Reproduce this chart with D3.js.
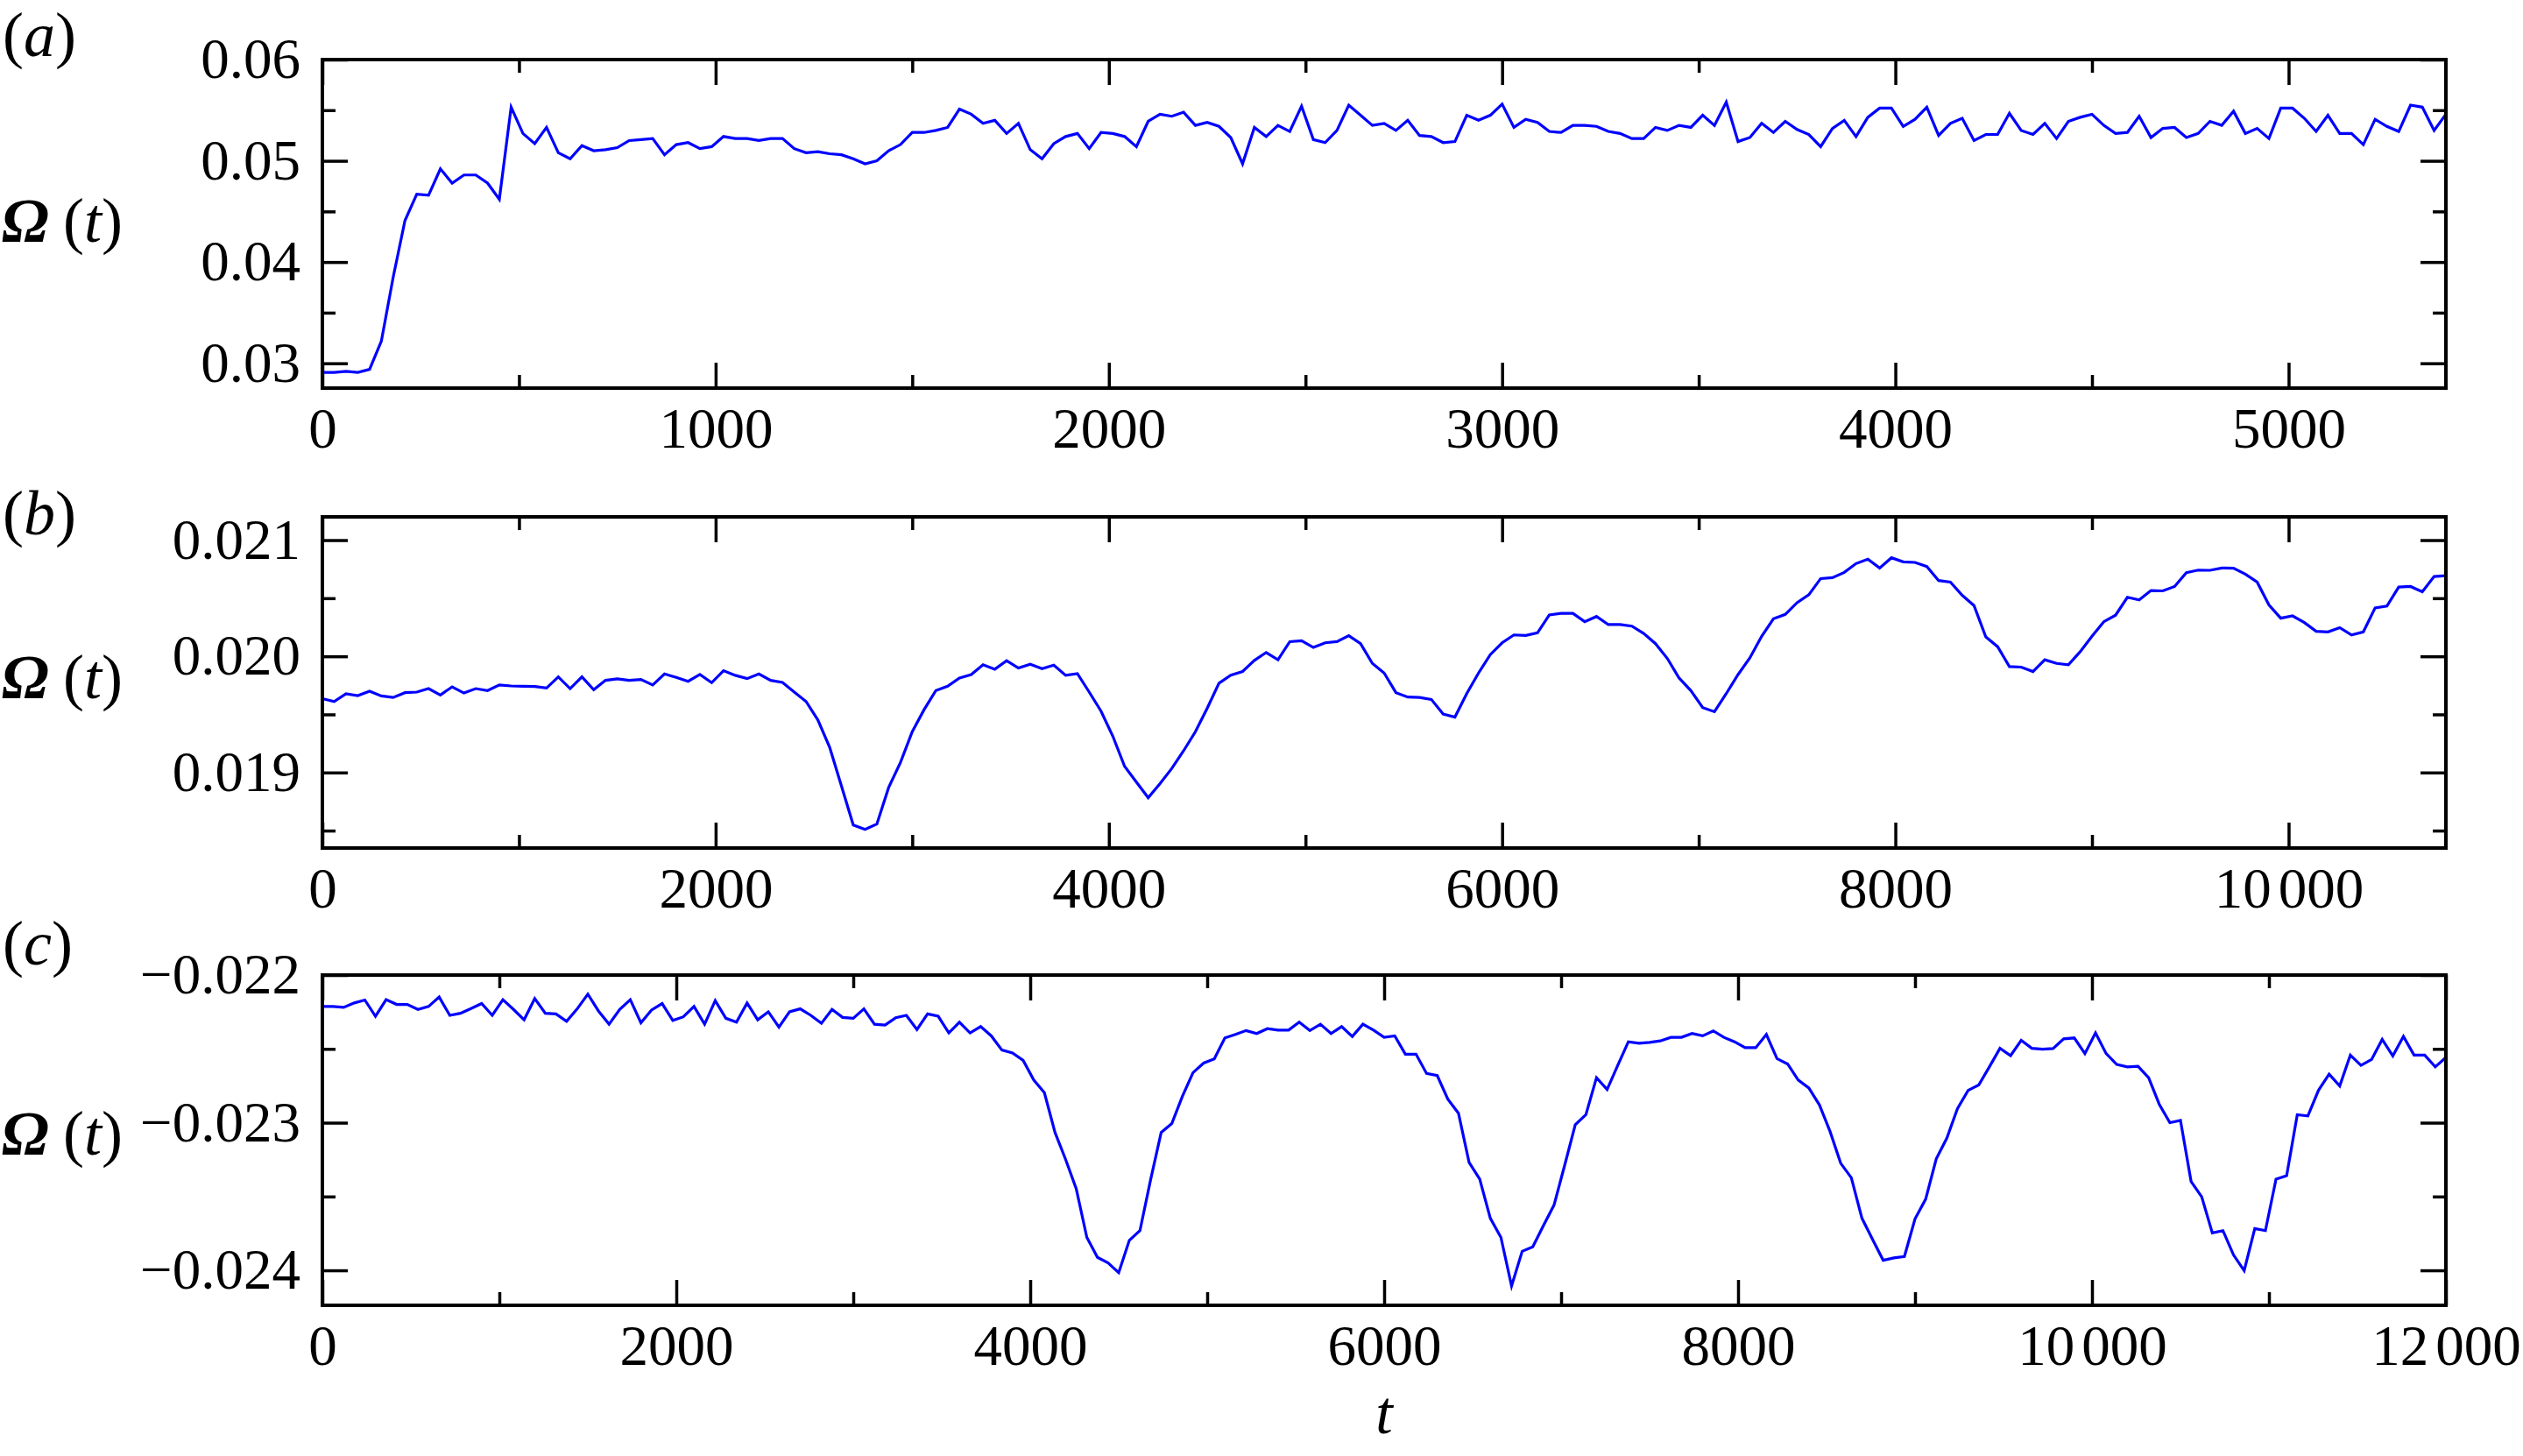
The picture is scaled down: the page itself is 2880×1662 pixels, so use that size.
<!DOCTYPE html>
<html><head><meta charset="utf-8">
<script src="https://cdn.jsdelivr.net/npm/d3@7"></script>
<style>
html,body{margin:0;padding:0;background:#fff;}
svg{display:block;}
text{font-family:"Liberation Serif","Times New Roman",serif;fill:#000;}
</style>
</head><body>
<svg id="chart" width="2880" height="1662"></svg>
<script>
// ---------------- DATA ----------------
// sampling interval of each series (time units)
const stepA = 30;
const stepB = 60;
const stepC = 60;

const omegaA = [
0.0291,0.0291,0.0292,0.0291,0.0294,0.0322,0.0385,0.0441,0.0467,0.0466,
0.0492,0.0478,0.0486,0.0486,0.0478,0.0462,0.0553,0.0527,0.0517,0.0533,
0.0508,0.0502,0.0515,0.0510,0.0511,0.0513,0.0520,0.0521,0.0522,0.0506,
0.0516,0.0518,0.0512,0.0514,0.0524,0.0522,0.0522,0.0520,0.0522,0.0522,
0.0512,0.0508,0.0509,0.0507,0.0506,0.0502,0.0497,0.0500,0.0510,0.0516,
0.0528,0.0528,0.0530,0.0533,0.0551,0.0546,0.0537,0.0540,0.0527,0.0537,
0.0511,0.0502,0.0517,0.0524,0.0527,0.0512,0.0528,0.0527,0.0524,0.0514,
0.0539,0.0546,0.0544,0.0548,0.0535,0.0538,0.0534,0.0523,0.0497,0.0533,
0.0524,0.0535,0.0529,0.0554,0.0521,0.0518,0.0530,0.0555,0.0545,0.0535,
0.0537,0.0530,0.0540,0.0525,0.0524,0.0518,0.0519,0.0545,0.0540,0.0545,
0.0556,0.0533,0.0541,0.0538,0.0529,0.0528,0.0535,0.0535,0.0534,0.0529,
0.0527,0.0522,0.0522,0.0533,0.0530,0.0535,0.0533,0.0545,0.0535,0.0558,
0.0519,0.0523,0.0537,0.0528,0.0539,0.0531,0.0526,0.0514,0.0532,0.0540,
0.0524,0.0543,0.0552,0.0552,0.0534,0.0541,0.0553,0.0525,0.0537,0.0542,
0.0520,0.0526,0.0526,0.0547,0.0530,0.0526,0.0537,0.0522,0.0539,0.0543,
0.0546,0.0535,0.0527,0.0528,0.0544,0.0523,0.0532,0.0533,0.0523,0.0527,
0.0539,0.0535,0.0549,0.0527,0.0532,0.0522,0.0552,0.0552,0.0542,0.0529,
0.0545,0.0527,0.0527,0.0516,0.0541,0.0534,0.0529,0.0555,0.0553,0.0530,
0.0546
];

const omegaB = [
0.019636,0.019611,0.019677,0.019662,0.019700,0.019659,0.019646,0.019687,0.019692,0.019722,
0.019667,0.019737,0.019684,0.019722,0.019705,0.019753,0.019745,0.019742,0.019740,0.019727,
0.019823,0.019722,0.019823,0.019712,0.019793,0.019806,0.019793,0.019801,0.019753,0.019848,
0.019818,0.019785,0.019843,0.019773,0.019876,0.019836,0.019808,0.019848,0.019793,0.019775,
0.019692,0.019611,0.019452,0.019217,0.018884,0.018548,0.018510,0.018556,0.018871,0.019086,
0.019351,0.019540,0.019705,0.019742,0.019813,0.019843,0.019927,0.019889,0.019962,0.019899,
0.019932,0.019894,0.019924,0.019836,0.019851,0.019692,0.019528,0.019313,0.019053,0.018917,
0.018783,0.018904,0.019035,0.019187,0.019351,0.019553,0.019768,0.019838,0.019869,0.019965,
0.020033,0.019970,0.020126,0.020134,0.020076,0.020116,0.020126,0.020177,0.020109,0.019939,
0.019856,0.019687,0.019649,0.019646,0.019629,0.019503,0.019477,0.019679,0.019856,0.020015,
0.020116,0.020184,0.020179,0.020202,0.020356,0.020369,0.020369,0.020298,0.020343,0.020273,
0.020273,0.020260,0.020197,0.020109,0.019982,0.019813,0.019705,0.019558,0.019523,0.019679,
0.019843,0.019986,0.020172,0.020323,0.020361,0.020462,0.020530,0.020669,0.020677,0.020722,
0.020798,0.020836,0.020760,0.020848,0.020813,0.020808,0.020773,0.020652,0.020639,0.020525,
0.020437,0.020167,0.020083,0.019912,0.019907,0.019869,0.019970,0.019939,0.019927,0.020040,
0.020172,0.020298,0.020354,0.020508,0.020485,0.020566,0.020563,0.020601,0.020720,0.020742,
0.020740,0.020760,0.020758,0.020707,0.020639,0.020442,0.020328,0.020348,0.020290,0.020215,
0.020210,0.020247,0.020184,0.020210,0.020417,0.020432,0.020596,0.020601,0.020556,0.020687,
0.020694
];

const omegaC = [
-0.022213,-0.022213,-0.022219,-0.022189,-0.022169,-0.022279,-0.022167,-0.022199,-0.022199,-0.022233,
-0.022213,-0.022149,-0.022273,-0.022259,-0.022227,-0.022193,-0.022273,-0.022167,-0.022233,-0.022303,
-0.022159,-0.022259,-0.022263,-0.022313,-0.022229,-0.022129,-0.022243,-0.022333,-0.022233,-0.022167,
-0.022323,-0.022237,-0.022193,-0.022307,-0.022283,-0.022213,-0.022333,-0.022173,-0.022293,-0.022319,
-0.022189,-0.022303,-0.022249,-0.022353,-0.022249,-0.022229,-0.022273,-0.022327,-0.022233,-0.022287,
-0.022293,-0.022229,-0.022333,-0.022339,-0.022289,-0.022273,-0.022369,-0.022263,-0.022279,-0.022392,
-0.022319,-0.022392,-0.022349,-0.022412,-0.022508,-0.022528,-0.022578,-0.022711,-0.022797,-0.023066,
-0.023249,-0.023448,-0.023777,-0.023912,-0.023950,-0.024016,-0.023797,-0.023731,-0.023388,-0.023066,
-0.023006,-0.022821,-0.022661,-0.022596,-0.022568,-0.022426,-0.022402,-0.022376,-0.022396,-0.022363,
-0.022373,-0.022373,-0.022319,-0.022376,-0.022333,-0.022396,-0.022349,-0.022416,-0.022333,-0.022373,
-0.022422,-0.022412,-0.022536,-0.022536,-0.022667,-0.022681,-0.022841,-0.022936,-0.023269,-0.023382,
-0.023647,-0.023777,-0.024106,-0.023871,-0.023841,-0.023697,-0.023558,-0.023289,-0.023014,-0.022946,
-0.022695,-0.022775,-0.022612,-0.022452,-0.022462,-0.022456,-0.022446,-0.022422,-0.022422,-0.022396,
-0.022412,-0.022378,-0.022422,-0.022452,-0.022492,-0.022492,-0.022402,-0.022566,-0.022602,-0.022711,
-0.022765,-0.022880,-0.023060,-0.023275,-0.023373,-0.023647,-0.023791,-0.023932,-0.023916,-0.023906,
-0.023651,-0.023518,-0.023245,-0.023104,-0.022904,-0.022781,-0.022745,-0.022622,-0.022496,-0.022546,
-0.022442,-0.022496,-0.022502,-0.022498,-0.022432,-0.022426,-0.022532,-0.022392,-0.022532,-0.022606,
-0.022622,-0.022618,-0.022695,-0.022875,-0.023000,-0.022984,-0.023398,-0.023502,-0.023747,-0.023731,
-0.023896,-0.024002,-0.023717,-0.023731,-0.023382,-0.023359,-0.022946,-0.022954,-0.022781,-0.022671,
-0.022751,-0.022542,-0.022612,-0.022572,-0.022436,-0.022548,-0.022416,-0.022542,-0.022542,-0.022622,
-0.022558
];

// axis ranges and ticks
const xDomainA = [0, 5400];
const xDomainB = [0, 10800];
const xDomainC = [0, 12000];
const yDomainA = [0.02755, 0.06];
const yDomainB = [0.01835, 0.0212];
const yDomainC = [-0.024237, -0.022];

const xMajorA = [0, 1000, 2000, 3000, 4000, 5000];
const xMinorA = [500, 1500, 2500, 3500, 4500];
const xLabelsA = ["0", "1000", "2000", "3000", "4000", "5000"];
const xMajorB = [0, 2000, 4000, 6000, 8000, 10000];
const xMinorB = [1000, 3000, 5000, 7000, 9000];
const xLabelsB = ["0", "2000", "4000", "6000", "8000", "10 000"];
const xMajorC = [0, 2000, 4000, 6000, 8000, 10000, 12000];
const xMinorC = [1000, 3000, 5000, 7000, 9000, 11000];
const xLabelsC = ["0", "2000", "4000", "6000", "8000", "10 000", "12 000"];

const yMajorA = [0.03, 0.04, 0.05, 0.06];
const yMinorA = [0.035, 0.045, 0.055];
const yLabelsA = ["0.03", "0.04", "0.05", "0.06"];
const yMajorB = [0.019, 0.020, 0.021];
const yMinorB = [0.0185, 0.0195, 0.0205];
const yLabelsB = ["0.019", "0.020", "0.021"];
const yMajorC = [-0.024, -0.023, -0.022];
const yMinorC = [-0.0235, -0.0225];
const yLabelsC = ["\u22120.024", "\u22120.023", "\u22120.022"];

const panelLetters = ["a", "b", "c"];
const xAxisTitle = "t";

// ---------------- LAYOUT ----------------
const W = 2880, H = 1662;
const plotLeft = 368, plotRight = 2792;
const panelBoxes = [
  {top: 68,  bottom: 443,  letterY: 64,   labelY: 276},
  {top: 590, bottom: 968,  letterY: 610,  labelY: 797},
  {top: 1113, bottom: 1490, letterY: 1101, labelY: 1318}
];
const tickFont = 65, labelFont = 72;
const majorLen = 29, minorLen = 15;
const groupGap = 8; // gap between thousands groups

const panels = [
  {vals: omegaA, step: stepA, xd: xDomainA, yd: yDomainA, xM: xMajorA, xm: xMinorA, xl: xLabelsA, yM: yMajorA, ym: yMinorA, yl: yLabelsA},
  {vals: omegaB, step: stepB, xd: xDomainB, yd: yDomainB, xM: xMajorB, xm: xMinorB, xl: xLabelsB, yM: yMajorB, ym: yMinorB, yl: yLabelsB},
  {vals: omegaC, step: stepC, xd: xDomainC, yd: yDomainC, xM: xMajorC, xm: xMinorC, xl: xLabelsC, yM: yMajorC, ym: yMinorC, yl: yLabelsC}
];

const svg = d3.select("#chart");
svg.append("rect").attr("width", W).attr("height", H).attr("fill", "#fff");

panels.forEach((p, i) => {
  const box = panelBoxes[i];
  const x = d3.scaleLinear().domain(p.xd).range([plotLeft, plotRight]);
  const y = d3.scaleLinear().domain(p.yd).range([box.bottom, box.top]);
  const g = svg.append("g");

  const styleAxis = sel => {
    sel.select(".domain").remove();
    sel.selectAll(".tick line").attr("stroke", "#000").attr("stroke-width", 3.5);
    sel.selectAll("text").attr("font-size", tickFont)
       .attr("font-family", '"Liberation Serif","Times New Roman",serif').attr("fill", "#000");
  };

  // bottom (labelled)
  const bx = g.append("g").attr("transform", `translate(0,${box.bottom})`)
    .call(d3.axisBottom(x).tickValues(p.xM).tickSize(-majorLen).tickPadding(22)
      .tickFormat((d, k) => p.xl[k]))
    .call(styleAxis);
  // split grouped thousands ("10 000") into two parts with a small gap
  bx.selectAll(".tick text").each(function() {
    const t = d3.select(this);
    const s = t.text();
    if (s.indexOf(" ") > 0) {
      const parts = s.split(" ");
      t.text(null);
      t.append("tspan").text(parts[0]);
      t.append("tspan").attr("dx", groupGap).text(parts[1]);
    }
  });
  g.append("g").attr("transform", `translate(0,${box.bottom})`)
    .call(d3.axisBottom(x).tickValues(p.xm).tickSize(-minorLen).tickFormat(""))
    .call(styleAxis);
  // top
  g.append("g").attr("transform", `translate(0,${box.top})`)
    .call(d3.axisTop(x).tickValues(p.xM).tickSize(-majorLen).tickFormat(""))
    .call(styleAxis);
  g.append("g").attr("transform", `translate(0,${box.top})`)
    .call(d3.axisTop(x).tickValues(p.xm).tickSize(-minorLen).tickFormat(""))
    .call(styleAxis);
  // left (labelled)
  g.append("g").attr("transform", `translate(${plotLeft},0)`)
    .call(d3.axisLeft(y).tickValues(p.yM).tickSize(-majorLen).tickPadding(25)
      .tickFormat((d, k) => p.yl[k]))
    .call(styleAxis);
  g.append("g").attr("transform", `translate(${plotLeft},0)`)
    .call(d3.axisLeft(y).tickValues(p.ym).tickSize(-minorLen).tickFormat(""))
    .call(styleAxis);
  // right
  g.append("g").attr("transform", `translate(${plotRight},0)`)
    .call(d3.axisRight(y).tickValues(p.yM).tickSize(-majorLen).tickFormat(""))
    .call(styleAxis);
  g.append("g").attr("transform", `translate(${plotRight},0)`)
    .call(d3.axisRight(y).tickValues(p.ym).tickSize(-minorLen).tickFormat(""))
    .call(styleAxis);

  // data line
  const line = d3.line().x((d, k) => x(k * p.step)).y(d => y(d));
  g.append("path").datum(p.vals).attr("d", line)
    .attr("fill", "none").attr("stroke", "#0000ff").attr("stroke-width", 3.2)
    .attr("stroke-linejoin", "miter");

  // frame
  g.append("rect").attr("x", plotLeft).attr("y", box.top)
    .attr("width", plotRight - plotLeft).attr("height", box.bottom - box.top)
    .attr("fill", "none").attr("stroke", "#000").attr("stroke-width", 4);

  // panel letter
  const lt = svg.append("text").attr("x", 3).attr("y", box.letterY).attr("font-size", labelFont);
  lt.append("tspan").text("(");
  lt.append("tspan").attr("font-style", "italic").text(panelLetters[i]);
  lt.append("tspan").text(")");

  // y label  Ω (t)
  const yl = svg.append("text").attr("y", box.labelY).attr("font-size", labelFont);
  yl.append("tspan").attr("x", 2).attr("font-style", "italic").attr("font-weight", "bold").text("\u03A9");
  yl.append("tspan").attr("x", 72).text("(");
  yl.append("tspan").attr("font-style", "italic").text("t");
  yl.append("tspan").text(")");
});

svg.append("text").attr("x", 1580).attr("y", 1636).attr("text-anchor", "middle")
  .attr("font-size", 70).attr("font-style", "italic").text(xAxisTitle);
</script>
</body></html>
